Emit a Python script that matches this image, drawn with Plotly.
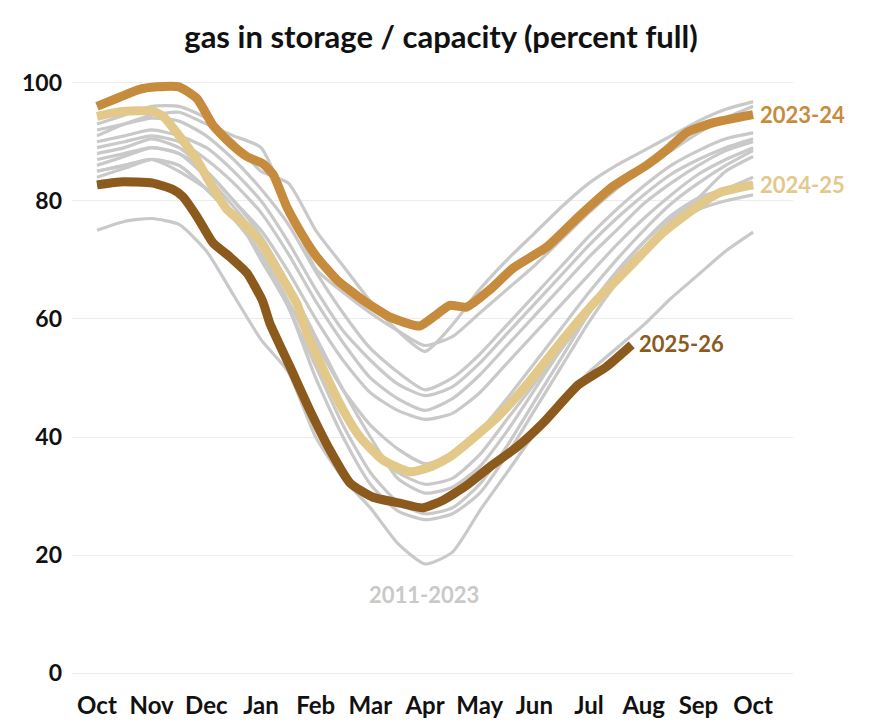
import plotly.graph_objects as go

# months since October (0 = Oct, 12 = next Oct)
month_labels = ["Oct", "Nov", "Dec", "Jan", "Feb", "Mar", "Apr", "May",
                "Jun", "Jul", "Aug", "Sep", "Oct"]
grid_months = [i * 0.5 for i in range(25)]

# 2011-2023 seasons (percent full)
gray_years = [
    [91, 93, 94.5, 95, 93, 91, 89, 79, 68.5, 64.5, 61, 58, 55.5, 57, 61, 65, 69, 73.5, 78, 82, 85.5, 88.5, 91.5, 94, 96],
    [93, 94.5, 96, 96, 94, 90, 85, 83, 75, 69, 63, 58, 54.5, 59, 65, 70, 74.5, 79, 83, 86, 88.5, 91, 93.5, 95.5, 96.8],
    [92, 93, 94, 93.5, 91, 87, 82, 76, 68, 61, 55, 51, 48, 50, 54, 59, 64, 69, 74, 78.5, 82.5, 86, 88.5, 90.5, 91.5],
    [90, 91, 92, 91, 89, 85, 80, 73, 65, 58, 53, 49, 47, 48.5, 52.5, 57.5, 62.5, 67.5, 72.5, 77, 81, 84.5, 87, 89, 90.5],
    [89, 90, 91, 90, 87, 83, 78, 71, 63, 56, 50, 46.5, 44.5, 46.5, 50.5, 55.5, 60.5, 65.5, 70.5, 75, 79.5, 83, 86, 88.5, 90],
    [88, 89, 90.5, 89, 85, 80, 75, 68, 60, 53, 47.5, 44.5, 43, 44, 47.5, 52.5, 57.5, 62.5, 67.5, 72.5, 77, 81, 84.5, 87, 89],
    [87, 88, 89, 88, 84, 79, 73, 65, 56, 48, 42, 38, 35.5, 37, 41, 46.5, 52.5, 58.5, 64.5, 70, 75, 79.5, 83, 86, 88.5],
    [85, 86, 87, 86, 82, 77, 71, 63, 54, 45, 38, 34, 32, 33, 37, 43, 49, 55, 61, 67, 72, 76.5, 80.5, 85, 87.5],
    [86, 87.5, 89, 88, 85, 80, 74, 66, 57, 48, 40, 33, 30.5, 31.5, 35, 41, 48, 55, 62, 68, 73, 77, 80, 82, 84],
    [84, 85.5, 87, 86, 82, 77, 71, 62, 52, 42, 34, 29, 27, 28, 32, 38.5, 46, 53.5, 61, 67.5, 73, 77.5, 80.5, 82, 83],
    [85, 86, 87, 85, 82, 78, 70, 62, 50, 40, 32, 27.5, 26, 27, 30.5, 37, 44.5, 52, 59.5, 66, 71.5, 75.5, 78.5, 80, 81],
    [75, 76.5, 77, 76, 71.5, 64, 56.5, 51, 40, 33, 28, 22, 18.5, 20.5, 27.5, 34, 40.5, 46, 51, 55, 59, 63.5, 67.5, 71.5, 74.7],
]

x_2023 = [0, 0.4, 0.75, 1.1, 1.5, 1.83, 2.12, 2.43, 2.74, 3.03, 3.22, 3.47, 3.77, 4.02, 4.39, 4.86,
          5.36, 5.9, 6.22, 6.45, 6.76, 7.18, 7.61, 8.23, 8.83, 9.43, 10.05, 10.42, 10.79, 11.26, 12]
y_2023 = [96, 97.5, 98.8, 99.3, 99.3, 97.3, 92.8, 89.8, 87.5, 86.3, 84.5, 79, 74, 70.5, 66.6, 63.2,
          60.3, 58.8, 60.8, 62.3, 62, 64.9, 68.6, 72.2, 77.5, 82.4, 86, 88.6, 91.6, 93.2, 94.6]

x_2024 = [0, 0.42, 1.02, 1.21, 1.52, 1.83, 2.07, 2.38, 2.74, 3.03, 3.35, 3.66, 3.84, 4.2, 4.5, 4.81,
          5.23, 5.72, 6.09, 6.45, 7.06, 7.37, 7.92, 8.52, 9.14, 9.74, 10.35, 10.97, 11.39, 12]
y_2024 = [94.3, 95.1, 95.2, 94.3, 90.8, 86.9, 83, 78.5, 75.6, 72.5, 67.5, 62.5, 57.6, 50.2, 44.6, 40,
          36.1, 34.1, 34.9, 36.6, 41.2, 43.8, 49.5, 56.5, 63.2, 68.8, 74.6, 79, 81.4, 82.7]

x_2025 = [0, 0.42, 1.02, 1.39, 1.57, 1.83, 2.12, 2.43, 2.74, 3.03, 3.16, 3.53, 3.89, 4.26, 4.63, 5.05,
          5.54, 5.96, 6.33, 6.76, 7.18, 7.68, 8.16, 8.8, 9.32, 9.78]
y_2025 = [82.7, 83.2, 83, 81.9, 80.7, 77.3, 72.9, 70.5, 67.8, 63, 59.3, 51.9, 44.6, 37.8, 32.2, 29.8,
          28.8, 28, 29.3, 31.8, 34.9, 38.3, 42.4, 48.8, 51.9, 55.6]

GRAY = "#c9c9c9"
C2023 = "#c68b3c"
C2024 = "#e2c98a"
C2025 = "#8b5a1c"
FONT = "Lato"

fig = go.Figure()

for vals in gray_years:
    fig.add_trace(go.Scatter(x=grid_months, y=vals, mode="lines",
                             line=dict(color=GRAY, width=3.2, shape="spline", smoothing=0.6),
                             hoverinfo="skip", showlegend=False))

fig.add_trace(go.Scatter(x=x_2025, y=y_2025, mode="lines",
                         line=dict(color=C2025, width=9, shape="spline", smoothing=0.5),
                         showlegend=False))
fig.add_trace(go.Scatter(x=x_2024, y=y_2024, mode="lines",
                         line=dict(color=C2024, width=9, shape="spline", smoothing=0.5),
                         showlegend=False))
fig.add_trace(go.Scatter(x=x_2023, y=y_2023, mode="lines",
                         line=dict(color=C2023, width=9, shape="spline", smoothing=0.5),
                         showlegend=False))

label_font = dict(family=FONT, size=22, weight="bold")
fig.add_annotation(x=x_2023[-1], y=y_2023[-1], text="2023-24", showarrow=False,
                   xanchor="left", xshift=5, font=dict(label_font, color=C2023))
fig.add_annotation(x=x_2024[-1], y=y_2024[-1], text="2024-25", showarrow=False,
                   xanchor="left", xshift=5, font=dict(label_font, color=C2024))
fig.add_annotation(x=x_2025[-1], y=y_2025[-1], text="2025-26", showarrow=False,
                   xanchor="left", xshift=5, yshift=1, font=dict(label_font, color=C2025))
fig.add_annotation(x=5.98, y=13.4, text="2011-2023", showarrow=False,
                   font=dict(label_font, color=GRAY))

# page body adds an 8px offset, so the figure is sized to fit inside the window
fig.update_layout(
    width=866, height=717,
    margin=dict(l=64, r=81, t=57, b=40),
    paper_bgcolor="white", plot_bgcolor="white",
    title=dict(text="gas in storage / capacity (percent full)", x=0.5, xanchor="center",
               y=0.9596, yanchor="middle",
               font=dict(family=FONT, size=31, color="#111111", weight="bold")),
    font=dict(family=FONT, color="#111111"),
)
fig.update_xaxes(range=[-0.457, 12.73], tickvals=list(range(13)), ticktext=month_labels,
                 showgrid=False, zeroline=False, showline=False, ticks="",
                 automargin=False, ticklabelstandoff=4,
                 tickfont=dict(family=FONT, size=24, color="#111111", weight="bold"))
fig.update_yaxes(range=[-2, 103], tickvals=[0, 20, 40, 60, 80, 100],
                 showgrid=True, gridcolor="#ececec", gridwidth=1, zeroline=False,
                 showline=False, ticks="", automargin=False, ticklabelstandoff=9,
                 tickfont=dict(family=FONT, size=23, color="#111111", weight="bold"))

fig.write_html("out.html")
